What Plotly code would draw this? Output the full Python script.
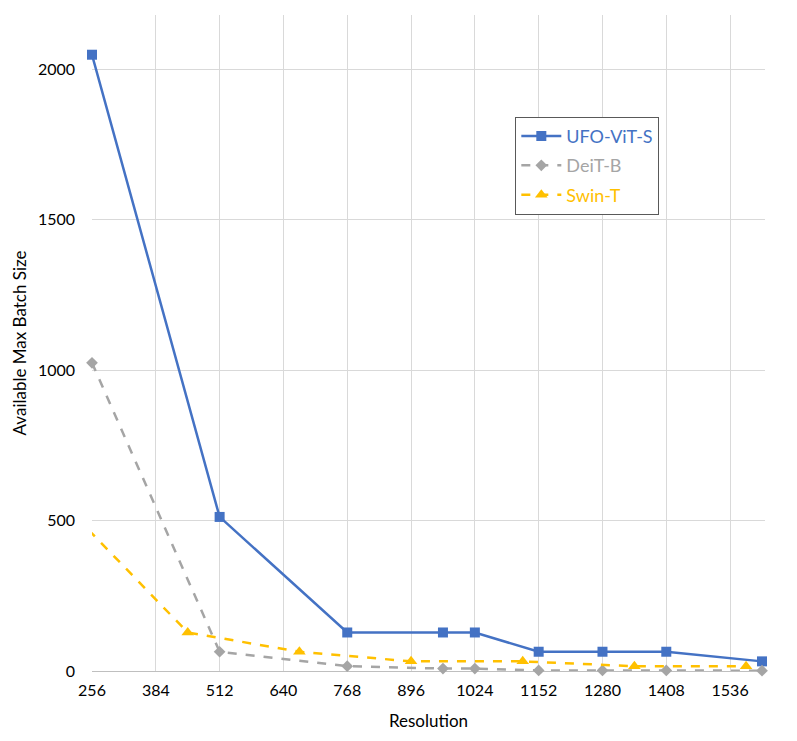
import plotly.graph_objects as go

# resolution vs. available max batch size
ufo_res = [256, 512, 768, 960, 1024, 1152, 1280, 1408, 1600]
ufo_batch = [2048, 512, 128, 128, 128, 64, 64, 64, 32]

deit_res = [256, 512, 768, 960, 1024, 1152, 1280, 1408, 1600]
deit_batch = [1024, 64, 16, 8, 8, 2, 2, 2, 1]

swin_res = [224, 448, 672, 896, 1120, 1344, 1568]
swin_batch = [512, 128, 64, 32, 32, 16, 16]

x_ticks = [256, 384, 512, 640, 768, 896, 1024, 1152, 1280, 1408, 1536]
y_ticks = [0, 500, 1000, 1500, 2000]

BLUE = "#4472C4"
GRAY = "#A5A5A5"
GOLD = "#FFC000"


def colored(txt, col):
    return f"<span style='color:{col}'>{txt}</span>"


fig = go.Figure()
fig.add_scatter(
    x=ufo_res, y=ufo_batch, name=colored("UFO-ViT-S", BLUE), mode="lines+markers",
    legendgroup="a", cliponaxis=False,
    line=dict(color=BLUE, width=2.5),
    marker=dict(symbol="square", size=10, color=BLUE),
)
fig.add_scatter(
    x=deit_res, y=deit_batch, name=colored("DeiT-B", GRAY), mode="lines+markers",
    legendgroup="b", cliponaxis=False,
    line=dict(color=GRAY, width=2.5, dash="dash"),
    marker=dict(symbol="diamond", size=9, color=GRAY),
)
# swin starts at 224, left of the axis start, so keep it clipped
fig.add_scatter(
    x=swin_res, y=swin_batch, name=colored("Swin-T", GOLD), mode="lines+markers",
    legendgroup="c",
    line=dict(color=GOLD, width=2.5, dash="dash"),
    marker=dict(symbol="triangle-up", size=11, color=GOLD),
)

# the page adds an 8px body margin, margins below account for it
fig.update_layout(
    width=797, height=741,
    plot_bgcolor="white", paper_bgcolor="white",
    font=dict(family="Lato, Open Sans, sans-serif", size=16, color="#000000"),
    margin=dict(l=84, r=40, t=7, b=78, autoexpand=False),
    xaxis=dict(
        title=dict(text="Resolution", font=dict(size=17), standoff=17),
        range=[256, 1606], tickvals=x_ticks, showgrid=True,
        gridcolor="#D9D9D9", gridwidth=1, zeroline=False,
        ticks="", showline=False, automargin=False, ticklabelstandoff=8,
    ),
    yaxis=dict(
        title=dict(text="Available Max Batch Size", font=dict(size=17), standoff=6),
        range=[0, 2180], tickvals=y_ticks, showgrid=True,
        gridcolor="#D9D9D9", gridwidth=1, zeroline=True,
        zerolinecolor="#BFBFBF", zerolinewidth=1, ticks="",
        automargin=False, ticklabelstandoff=16,
    ),
    legend=dict(
        x=0.629, y=0.845, xanchor="left", yanchor="top",
        bordercolor="#595959", borderwidth=1, bgcolor="white",
        font=dict(size=18), traceorder="grouped",
        itemwidth=40, tracegroupgap=3,
    ),
)

fig.write_html("out.html")
